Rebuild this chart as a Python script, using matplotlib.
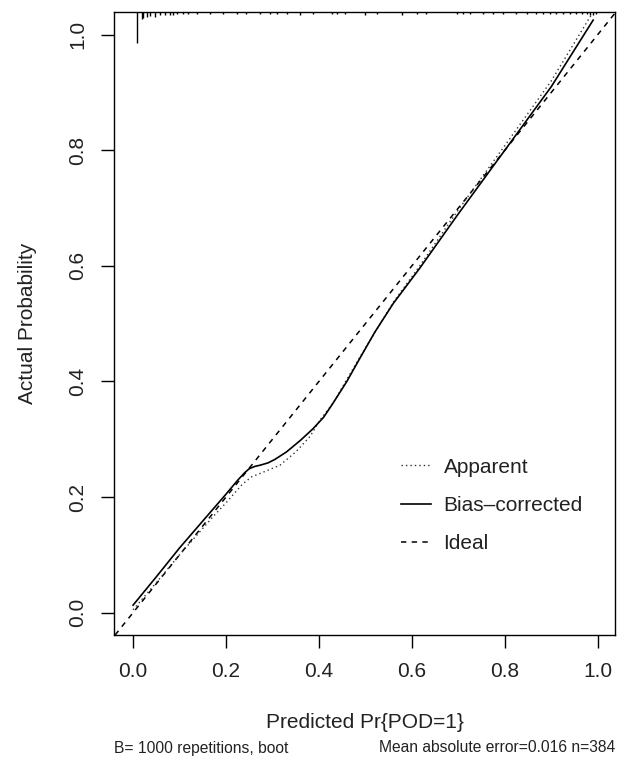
import matplotlib
matplotlib.use("Agg")
import matplotlib.pyplot as plt
from matplotlib.lines import Line2D

plt.rcParams['font.family'] = ['Liberation Sans', 'DejaVu Sans']

# apparent calibration curve (dotted)
app_x = [0.0, 0.05, 0.10, 0.172, 0.20, 0.235, 0.255, 0.28, 0.316, 0.35, 0.381, 0.402,
         0.43, 0.488, 0.56, 0.617, 0.70, 0.80, 0.90, 0.986]
app_y = [0.005, 0.052, 0.100, 0.166, 0.190, 0.222, 0.235, 0.243, 0.255, 0.278, 0.305, 0.333,
         0.362, 0.442, 0.537, 0.600, 0.697, 0.808, 0.920, 1.034]

# bias-corrected curve (solid)
bc_x = [0.0, 0.05, 0.10, 0.158, 0.20, 0.225, 0.240, 0.250, 0.262, 0.273, 0.290, 0.305,
        0.33, 0.36, 0.387, 0.41, 0.43, 0.46, 0.488, 0.52, 0.56, 0.617, 0.70, 0.80, 0.90, 0.990]
bc_y = [0.013, 0.062, 0.112, 0.166, 0.205, 0.229, 0.242, 0.249, 0.253, 0.255, 0.259, 0.265,
        0.278, 0.298, 0.318, 0.338, 0.362, 0.400, 0.440, 0.485, 0.535, 0.596, 0.690, 0.800,
        0.910, 1.025]

# spike histogram of predicted probabilities along the top
rug_x = [0.009, 0.019, 0.022, 0.031, 0.037, 0.047, 0.058, 0.069, 0.080, 0.087, 0.094,
         0.108, 0.119, 0.137, 0.166, 0.194, 0.223, 0.244, 0.273, 0.295, 0.309,
         0.331, 0.359, 0.388, 0.427, 0.438, 0.456, 0.499, 0.524, 0.578, 0.610, 0.631,
         0.696, 0.710, 0.725, 0.753, 0.775, 0.796, 0.825, 0.847, 0.868, 0.882, 0.897,
         0.911, 0.926, 0.940, 0.954, 0.965, 0.976, 0.983, 0.990, 0.997]
rug_h = [0.054, 0.012, 0.010, 0.008, 0.007, 0.008, 0.005, 0.005, 0.006, 0.005, 0.004,
         0.004, 0.004, 0.004, 0.003, 0.003, 0.003, 0.003, 0.003, 0.003, 0.003,
         0.003, 0.005, 0.003, 0.003, 0.003, 0.003, 0.005, 0.003, 0.005, 0.003, 0.003,
         0.003, 0.003, 0.003, 0.003, 0.003, 0.003, 0.003, 0.003, 0.003, 0.003, 0.003,
         0.003, 0.003, 0.004, 0.004, 0.004, 0.004, 0.005, 0.006, 0.004]

ticks = [0.0, 0.2, 0.4, 0.6, 0.8, 1.0]
tick_labels = ['0.0', '0.2', '0.4', '0.6', '0.8', '1.0']

TXT = '#222222'
FS = 15

fig = plt.figure(figsize=(6.23, 7.63), dpi=100)
ax = fig.add_axes([114 / 623, 1 - 635 / 763, (615 - 114) / 623, (635 - 12) / 763])

xlo, xhi = -0.041, 1.037
ylo, yhi = -0.0386, 1.039
ax.set_xlim(xlo, xhi)
ax.set_ylim(ylo, yhi)

ax.axline((0, 0), (1, 1), color='black', lw=1.1, dashes=(3.5, 3.5))
ax.plot(app_x, app_y, color='#333333', lw=1.0, dashes=(1, 2.2))
ax.plot(bc_x, bc_y, color='black', lw=1.2)
ax.vlines(rug_x, [yhi - h for h in rug_h], yhi, color='black', lw=1.0)

ax.set_xticks(ticks)
ax.set_xticklabels(tick_labels)
ax.set_yticks(ticks)
ax.set_yticklabels(tick_labels, rotation=90, va='center')
ax.tick_params(direction='out', length=9.5, width=1.0, pad=10, labelsize=FS,
               colors='black', labelcolor=TXT)
for s in ax.spines.values():
    s.set_linewidth(1.0)

fig.text(28 / 623, 1 - 323.5 / 763, 'Actual Probability', rotation=90,
         ha='center', va='center', fontsize=FS, color=TXT)
fig.text(364.5 / 623, 1 - 722 / 763, 'Predicted Pr{POD=1}',
         ha='center', va='center', fontsize=FS, color=TXT)
fig.text(114 / 623, 1 - 748 / 763, 'B= 1000 repetitions, boot',
         ha='left', va='center', fontsize=FS * 0.75, color=TXT)
fig.text(615 / 623, 1 - 748 / 763, 'Mean absolute error=0.016 n=384',
         ha='right', va='center', fontsize=FS * 0.75, color=TXT)

handles = [Line2D([], [], color='#333333', lw=1.0, dashes=(1, 2.2)),
           Line2D([], [], color='black', lw=1.2),
           Line2D([], [], color='black', lw=1.1, dashes=(3.5, 3.5))]
ax.legend(handles, ['Apparent', 'Bias\u2013corrected', 'Ideal'], frameon=False,
          fontsize=FS, labelcolor=TXT, handlelength=1.45, handletextpad=0.6,
          labelspacing=0.92, loc='upper left',
          bbox_to_anchor=((382 - 114) / 501, (635 - 439) / 623))

fig.savefig('out.png', dpi=100)
